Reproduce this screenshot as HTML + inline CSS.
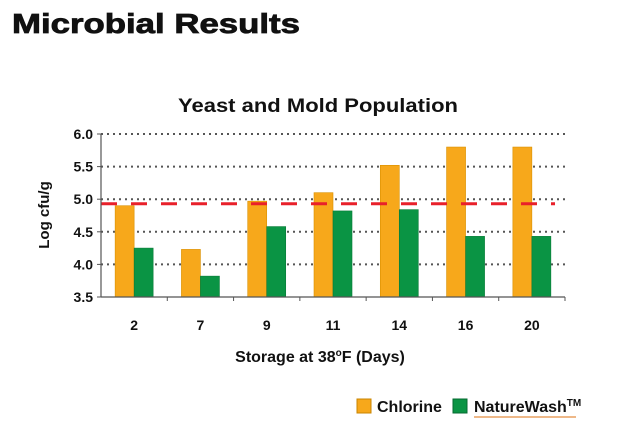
<!DOCTYPE html>
<html><head><meta charset="utf-8"><style>
body{margin:0;background:#fff;font-family:"Liberation Sans",sans-serif}
svg text{font-family:"Liberation Sans",sans-serif;font-weight:bold;fill:#111}
</style></head><body>
<svg width="640" height="427" viewBox="0 0 640 427">
<text x="12" y="33" font-size="28" textLength="288" lengthAdjust="spacingAndGlyphs" stroke="#111" stroke-width="0.8">Microbial Results</text>
<text x="178" y="112" font-size="19" textLength="280" lengthAdjust="spacingAndGlyphs">Yeast and Mold Population</text>
<text transform="translate(49,215) rotate(-90)" font-size="15" text-anchor="middle">Log cfu/g</text>
<text x="320" y="362" font-size="16" text-anchor="middle">Storage at 38<tspan font-size="10" dy="-6">o</tspan><tspan dy="6">F (Days)</tspan></text>
<g id="grid"></g><g id="bars"></g><g id="axes"></g>
<g>
<rect x="357" y="399" width="14" height="14" fill="#f7a81b" stroke="#c98500"/>
<text x="377" y="412" font-size="16">Chlorine</text>
<rect x="453" y="399" width="14" height="14" fill="#0a9444" stroke="#066a30"/>
<text x="474" y="412" font-size="16">NatureWash<tspan font-size="10" dy="-6">TM</tspan></text>
<line x1="474" y1="417" x2="576" y2="417" stroke="#e9a060" stroke-width="1.5"/>
</g>
</svg>
<script>
const categories=["2","7","9","11","14","16","20"];
const chlorine=[4.9,4.23,4.97,5.1,5.52,5.8,5.8];
const natureWash=[4.25,3.82,4.58,4.82,4.84,4.43,4.43];
const yTicks=[3.5,4.0,4.5,5.0,5.5,6.0];
const threshold=4.93;
const NS="http://www.w3.org/2000/svg";
const X0=101,X1=565,Y0=297,Y1=134,YMIN=3.5,YMAX=6.0;
const step=(X1-X0)/categories.length;
const y=v=>Y0-(v-YMIN)/(YMAX-YMIN)*(Y0-Y1);
const cx=i=>X0+step*(i+0.5);
function mk(tag,attrs,parent){const e=document.createElementNS(NS,tag);for(const k in attrs)e.setAttribute(k,attrs[k]);document.getElementById(parent).appendChild(e);return e;}
yTicks.forEach(t=>{
  if(t>YMIN){const g=mk('line',{x1:X0,x2:X1,y1:y(t),y2:y(t),stroke:'#555','stroke-width':2,'stroke-dasharray':'2 4'},'grid');
  
  }
  const l=mk('text',{x:X0-8,y:y(t)+5,'font-size':14,'text-anchor':'end'},'axes');l.textContent=t.toFixed(1);
  
  
  mk('line',{x1:X0-4,x2:X0,y1:y(t),y2:y(t),stroke:'#555'},'axes');
});
categories.forEach((c,i)=>{
  const a=mk('rect',{x:cx(i)-19,y:y(chlorine[i]),width:19,height:Y0-y(chlorine[i]),fill:'#f7a81b',stroke:'#d99000','stroke-width':0.6},'bars');
  
  
  const b=mk('rect',{x:cx(i),y:y(natureWash[i]),width:19,height:Y0-y(natureWash[i]),fill:'#0a9444',stroke:'#077a36','stroke-width':0.6},'bars');
  
  
  const l=mk('text',{x:cx(i),y:330,'font-size':14,'text-anchor':'middle'},'axes');l.textContent=c;
  
  
  mk('line',{x1:X0+step*(i+1),x2:X0+step*(i+1),y1:Y0,y2:Y0+4,stroke:'#555'},'axes');
});
const th=mk('line',{x1:X0,x2:X1-10,y1:y(threshold),y2:y(threshold),stroke:'#e8202a','stroke-width':3,'stroke-dasharray':'16 14'},'bars');


mk('line',{x1:X0,x2:X0,y1:Y1,y2:Y0,stroke:'#555','stroke-width':1.2},'axes');
mk('line',{x1:X0,x2:X1,y1:Y0,y2:Y0,stroke:'#555','stroke-width':1.2},'axes');
</script>
</body></html>
